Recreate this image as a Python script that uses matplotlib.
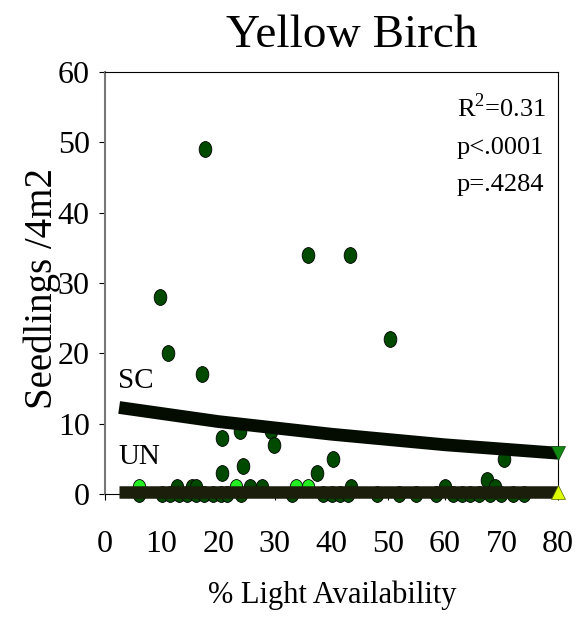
import matplotlib
matplotlib.use("Agg")
import matplotlib.pyplot as plt
import matplotlib.path as mpath
from matplotlib.transforms import Affine2D

# ---- data ----
sc_x = [17.7, 9.8, 11.2, 17.1, 35.8, 43.2, 50.3, 20.6, 23.8, 29.3, 29.8, 20.7,
        24.3, 37.5, 40.3, 70.4, 67.5, 12.7, 15.4, 16.0, 25.6, 27.8, 43.5, 60.0, 68.8]
sc_y = [49, 28, 20, 17, 34, 34, 22, 8, 9, 9, 7, 3,
        4, 3, 5, 5, 2, 1, 1, 1, 1, 1, 1, 1, 1]
zero_x = [6, 10, 11.5, 13, 14.5, 16, 17.5, 19, 20.5, 21.5, 24, 33, 38.5, 40,
          41.5, 43, 48, 52, 55, 58.5, 61.5, 63, 64.5, 66, 68, 70, 72, 74]
zero_y = [0] * len(zero_x)
un_x = [6.0, 23.1, 33.8, 35.9]
un_y = [1, 1, 1, 1]
sc_fit_x = [2.5, 20, 40, 60, 80]
sc_fit_y = [12.3, 10.3, 8.5, 7.0, 5.8]
un_fit_x = [2.5, 80]
un_fit_y = [0.35, 0.35]
stats_text = ["R$^2$=0.31", "p<.0001", "p=.4284"]
x_ticks = [0, 10, 20, 30, 40, 50, 60, 70, 80]
y_ticks = [0, 10, 20, 30, 40, 50, 60]

plt.rcParams['font.family'] = ['Liberation Serif', 'DejaVu Serif']
plt.rcParams['mathtext.fontset'] = 'custom'
plt.rcParams['mathtext.rm'] = 'Liberation Serif'

fig = plt.figure(figsize=(5.79, 6.21), dpi=100)
ax = fig.add_axes([105/579, 1-494/621, (558-105)/579, (494-72)/621])

circ = mpath.Path.unit_circle()
ell = circ.transformed(Affine2D().scale(0.8, 1.0))

dark = '#004a00'
ax.scatter(zero_x, zero_y, marker=ell, s=130, c=dark, edgecolors='black',
           linewidths=0.6, zorder=2, clip_on=False)
ax.scatter(sc_x, sc_y, marker=ell, s=130, c=dark, edgecolors='black',
           linewidths=0.6, zorder=2, clip_on=False)
ax.scatter(un_x, un_y, marker=ell, s=130, c='#22ee22', edgecolors='black',
           linewidths=0.6, zorder=2, clip_on=False)

ax.plot(sc_fit_x, sc_fit_y, color='#040c02', lw=9.2, solid_capstyle='butt', zorder=3, clip_on=False)
ax.plot(un_fit_x, un_fit_y, color='#1b1e0a', lw=9.0, solid_capstyle='butt', zorder=3, clip_on=False)
ax.plot([sc_fit_x[-1]], [sc_fit_y[-1]], marker='v', ms=10, color='#118811',
        markeredgecolor='#0a3a0a', mew=0.5, zorder=4, clip_on=False)
ax.plot([un_fit_x[-1]], [un_fit_y[-1]], marker='^', ms=10, color='#ddff00',
        markeredgecolor='#556600', mew=0.5, zorder=4, clip_on=False)

ax.set_xlim(0, 80)
ax.set_ylim(0, 60)
ax.set_xticks(x_ticks)
ax.set_yticks(y_ticks)
ax.tick_params(axis='both', direction='out', length=4, width=0.8, labelsize=23)
ax.tick_params(axis='x', pad=22)
ax.tick_params(axis='y', pad=7)
for s in ['top', 'right', 'bottom']:
    ax.spines[s].set_color('black')
    ax.spines[s].set_linewidth(0.8)
ax.spines['left'].set_color('#777777')
ax.spines['left'].set_linewidth(1.5)

fig.text(352/579, 1-47/621, "Yellow Birch", fontsize=34, ha='center', va='baseline')
fig.text(332/579, 1-603/621, "% Light Availability", fontsize=22, ha='center', va='baseline')
fig.text(42/579, 1-288/621, "Seedlings /4m2", fontsize=28, rotation=90,
         ha='center', va='center')

for i, t in enumerate(stats_text):
    fig.text(457/579, 1-(117 + 37*i)/621, t, fontsize=19, ha='left', va='baseline')

ax.text(2.3, 15.0, "SC", fontsize=21, ha='left', va='baseline')
ax.text(2.3, 4.2, "UN", fontsize=21, ha='left', va='baseline')

fig.savefig("out.png", dpi=100)
